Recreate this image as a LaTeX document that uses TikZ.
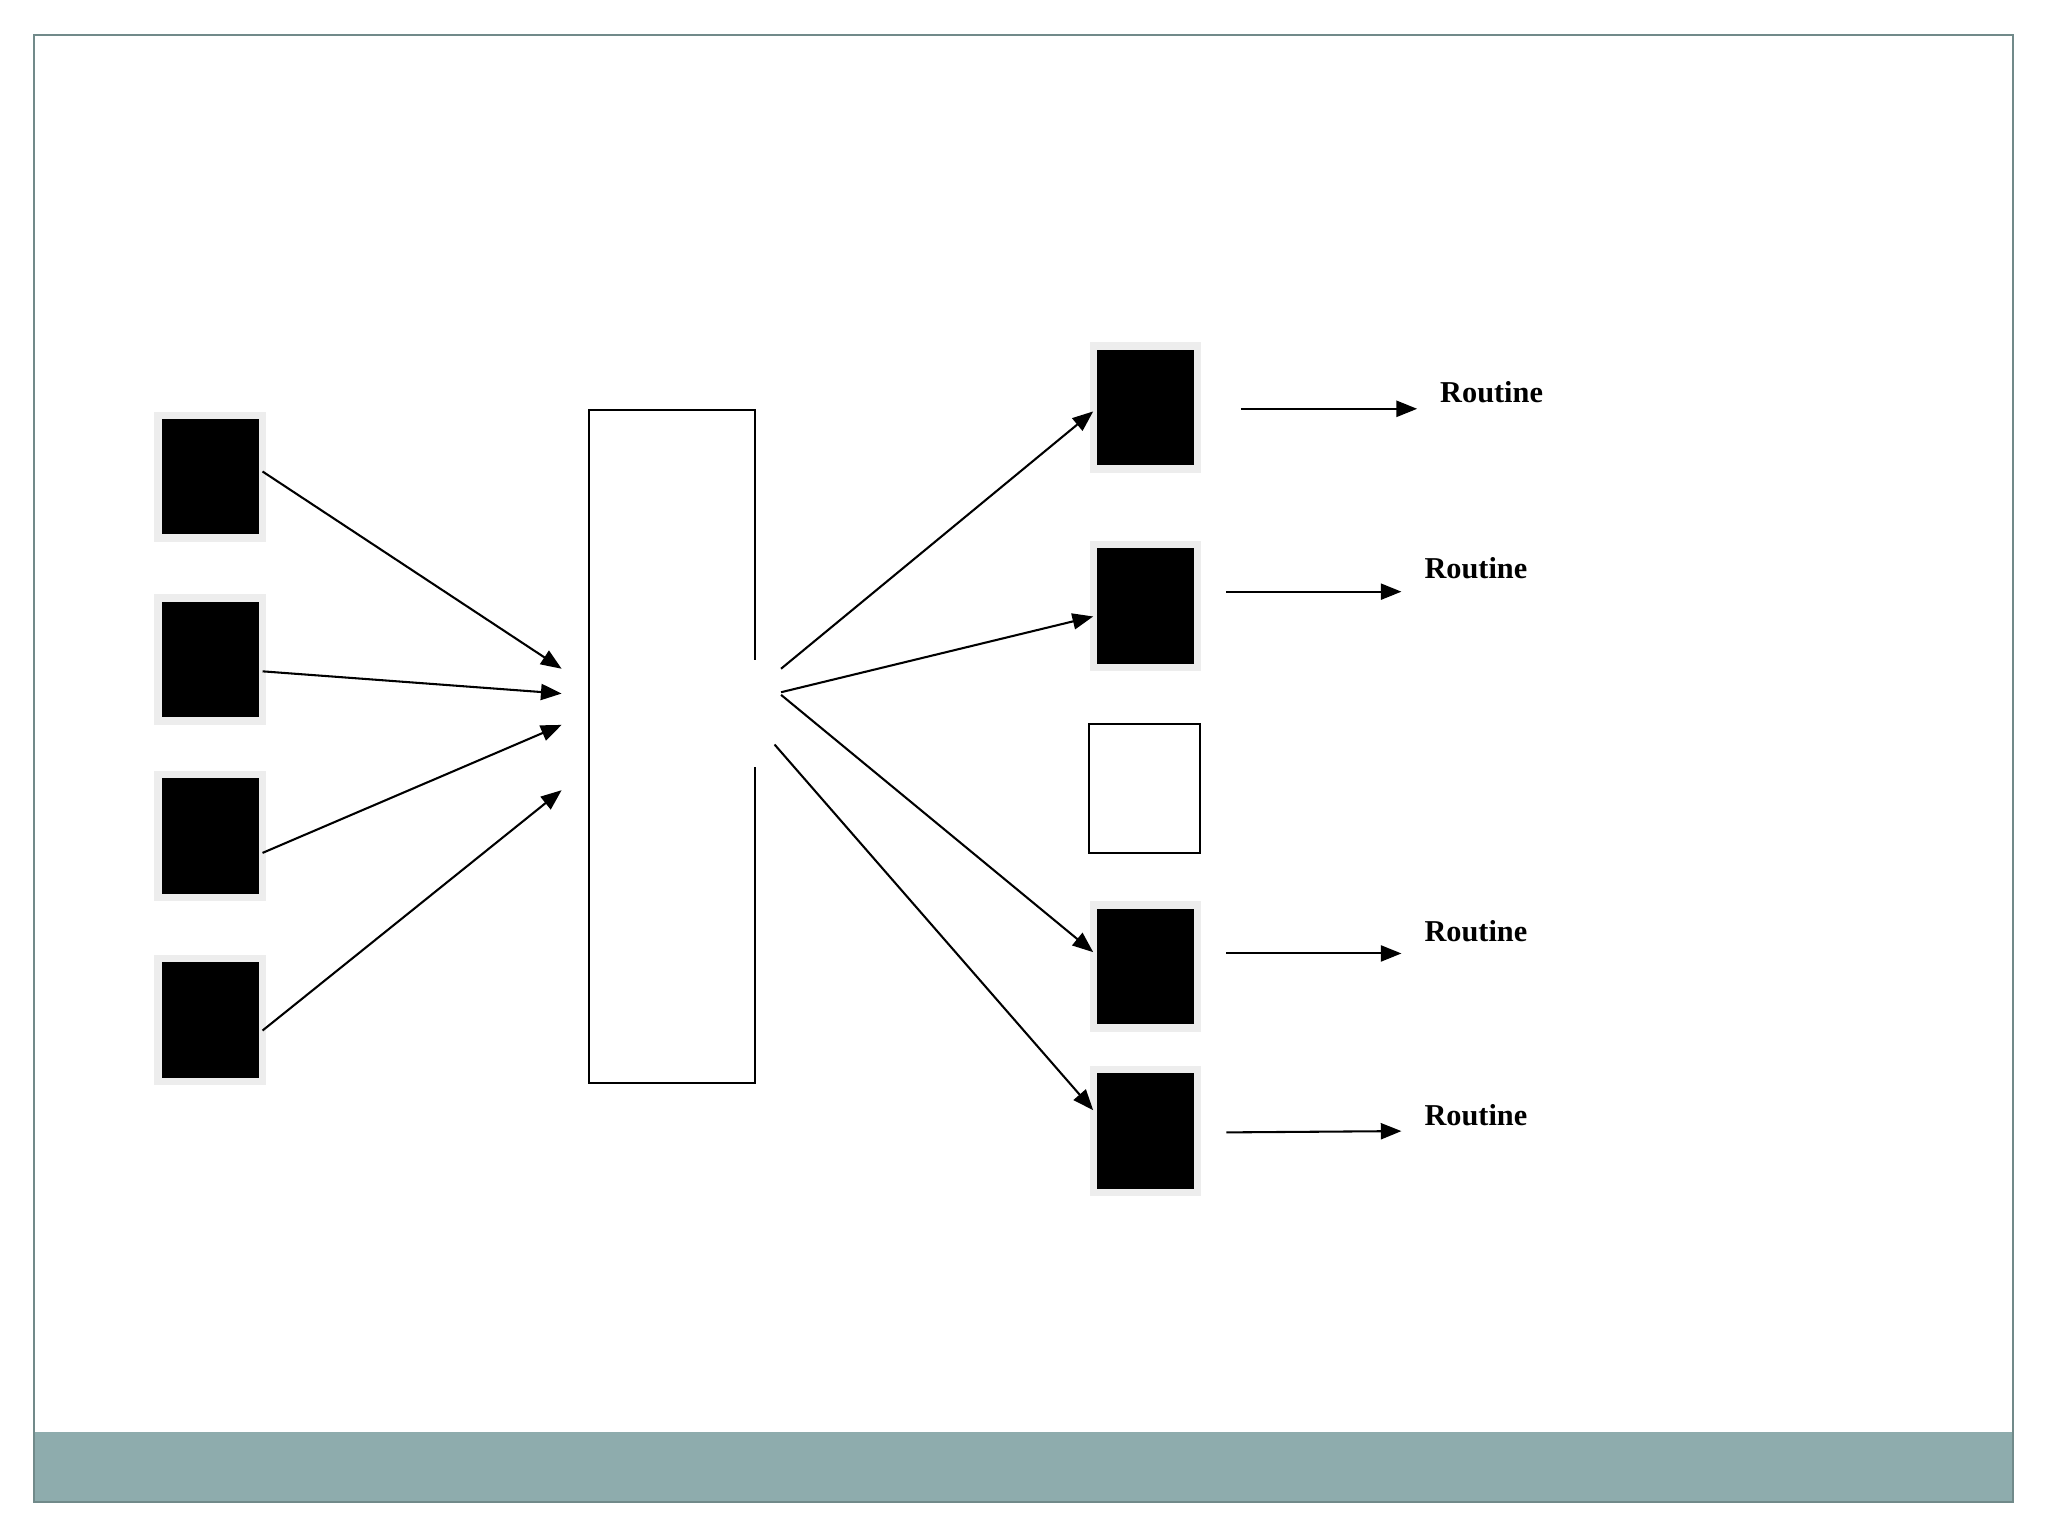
\documentclass[tikz,border=0pt]{standalone}
\usepackage{fontspec}
\setmainfont{Liberation Serif}
\usetikzlibrary{arrows.meta}
\definecolor{band}{HTML}{8EACAD}
\begin{document}
\begin{tikzpicture}[x=0.01cm,y=-0.01cm,
  blk/.style={draw=black!7,line width=1.6pt,fill=black,minimum width=0.8cm,minimum height=0.94cm,inner sep=0pt,outer sep=0pt},
  arr/.style={line width=0.45pt,-{Triangle[length=4.5pt,width=3.5pt]}},
  lbl/.style={font=\fontsize{6.6}{8}\selectfont\bfseries}]
\useasboundingbox (0,0) rectangle (1568,1176);
\fill[band] (26,1096) rectangle (1541,1150);
\draw[band!80!black,line width=0.4pt] (26,27) rectangle (1541,1150);
% left boxes
\node[blk] (l1) at (161,365) {};
\node[blk] (l2) at (161,505) {};
\node[blk] (l3) at (161,640) {};
\node[blk] (l4) at (161,781) {};
% right boxes
\node[blk] (r1) at (877,312) {};
\node[blk] (r2) at (877,464) {};
\node[draw,line width=0.45pt,minimum width=0.85cm,minimum height=0.99cm,inner sep=0pt] (e) at (876.5,603.5) {};
\node[blk] (r3) at (877,740) {};
\node[blk] (r4) at (877,866) {};
% central rectangle
\coordinate (c) at (514.5,571.5);
\draw[line width=0.45pt] (578,505) -- (578,314) -- (451,314) -- (451,829) -- (578,829) -- (578,587);
\coordinate (i1) at (430,512);
\coordinate (i2) at (430,531);
\coordinate (i3) at (430,555);
\coordinate (i4) at (430,605);
\coordinate (o1) at (598,512);
\coordinate (o2) at (598,530);
\coordinate (o3) at (598,532);
\coordinate (o4) at (593,570);
\draw[arr] (l1.east |- 0,361) -- (i1);
\draw[arr] (l2.east |- 0,514) -- (i2);
\draw[arr] (l3.east |- 0,653) -- (i3);
\draw[arr] (l4.east |- 0,789) -- (i4);
\draw[arr] (o1) -- (r1.west |- 0,315);
\draw[arr] (o2) -- (r2.west |- 0,472);
\draw[arr] (o3) -- (r3.west |- 0,729);
\draw[arr] (o4) -- (r4.west |- 0,850);
% routines
\node[lbl] (t1) at (1142,300) {Routine};
\node[lbl] (t2) at (1130,435) {Routine};
\node[lbl] (t3) at (1130,713) {Routine};
\node[lbl] (t4) at (1130,854) {Routine};
\coordinate (s1) at (950,313); \coordinate (e1) at (1085,313);
\coordinate (s2) at (939,453); \coordinate (e2) at (1073,453);
\coordinate (s3) at (939,730); \coordinate (e3) at (1073,730);
\coordinate (s4) at (939,867); \coordinate (e4) at (1073,866);
\draw[arr] (s1) -- (e1);
\draw[arr] (s2) -- (e2);
\draw[arr] (s3) -- (e3);
\draw[arr] (s4) -- (e4);
\end{tikzpicture}
\end{document}
